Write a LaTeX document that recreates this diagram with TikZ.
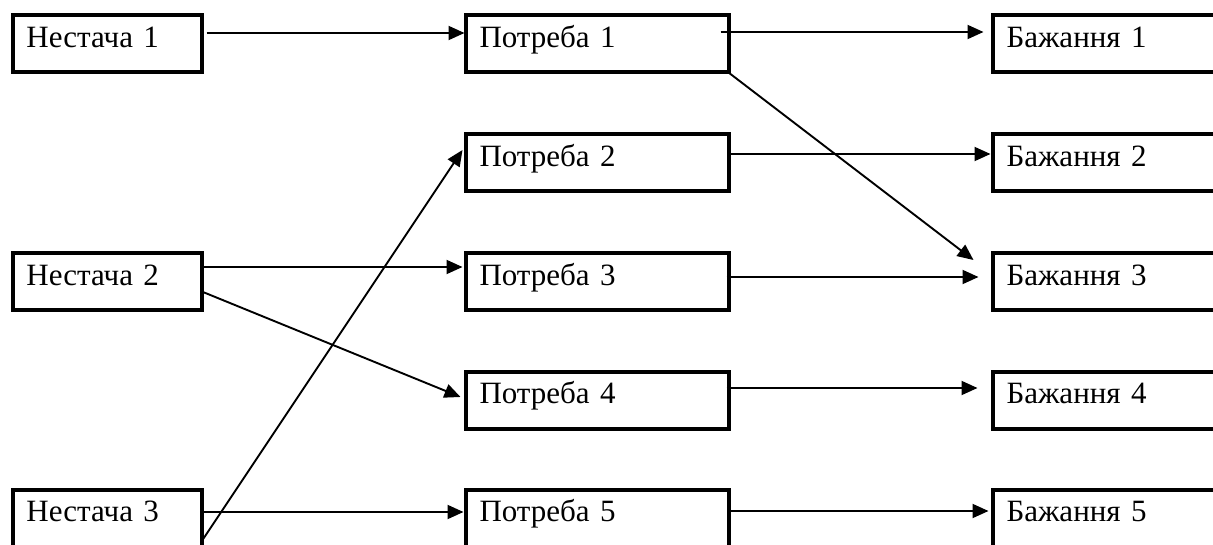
\documentclass[tikz,border=0pt]{standalone}
\usepackage{fontspec}
\setmainfont{Liberation Serif}
\usetikzlibrary{arrows.meta}
\begin{document}
\begin{tikzpicture}[x=1pt,y=-1pt,
            box/.style={draw, line width=4pt, outer sep=0pt, inner xsep=14pt, inner ysep=0pt,
                text height=32pt, text depth=25pt, align=left, font=\fontsize{31}{37}\selectfont},
            lack/.style={box, text width=161pt},
            need/.style={box, text width=235pt},
            arr/.style={line width=1.9pt, -{Triangle[length=16pt,width=14pt]}}]
            \useasboundingbox (0,0) rectangle (1213,545);
            \clip (0,0) rectangle (1213,545);
            \node[lack] (n1) at (107,44) {Нестача 1};
            \node[lack] (n2) at (107,282) {Нестача 2};
            \node[lack] (n3) at (107,518) {Нестача 3};
            \node[need] (p1) at (597,44) {Потреба 1};
            \node[need] (p2) at (597,163) {Потреба 2};
            \node[need] (p3) at (597,282) {Потреба 3};
            \node[need] (p4) at (597,400) {Потреба 4};
            \node[need] (p5) at (597,518) {Потреба 5};
            \node[need] (b1) at (1124,44) {Бажання 1};
            \node[need] (b2) at (1124,163) {Бажання 2};
            \node[need] (b3) at (1124,282) {Бажання 3};
            \node[need] (b4) at (1124,400) {Бажання 4};
            \node[need] (b5) at (1124,518) {Бажання 5};
            \draw[arr] ([xshift=5pt,yshift=11pt]n1.east) -- ([xshift=-1pt,yshift=11pt]p1.west);
            \draw[arr] ([xshift=-8pt,yshift=12pt]p1.east) -- ([xshift=-9pt,yshift=12pt]b1.west);
            \draw[arr] (p1.south east) -- ([xshift=-19pt,yshift=22pt]b3.west);
            \draw[arr] ([xshift=1pt,yshift=9pt]p2.east) -- ([xshift=-2pt,yshift=9pt]b2.west);
            \draw[arr] ([xshift=-1pt,yshift=15pt]n2.east) -- ([xshift=-3pt,yshift=15pt]p3.west);
            \draw[arr] ([xshift=-1pt,yshift=-9pt]n2.east) -- ([xshift=-5pt,yshift=3pt]p4.west);
            \draw[arr] ([xshift=-2pt,yshift=5pt]p3.east) -- ([xshift=-14pt,yshift=5pt]b3.west);
            \draw[arr] ([xshift=-2pt,yshift=12pt]p4.east) -- ([xshift=-15pt,yshift=12pt]b4.west);
            \draw[arr] ([xshift=1pt,yshift=6pt]n3.east) -- ([xshift=-2pt,yshift=6pt]p5.west);
            \draw[arr] ([xshift=1pt,yshift=-22pt]n3.east) -- ([xshift=-3pt,yshift=13pt]p2.west);
            \draw[arr] ([xshift=-1pt,yshift=7pt]p5.east) -- ([xshift=-4pt,yshift=7pt]b5.west);
        \end{tikzpicture}
\end{document}
